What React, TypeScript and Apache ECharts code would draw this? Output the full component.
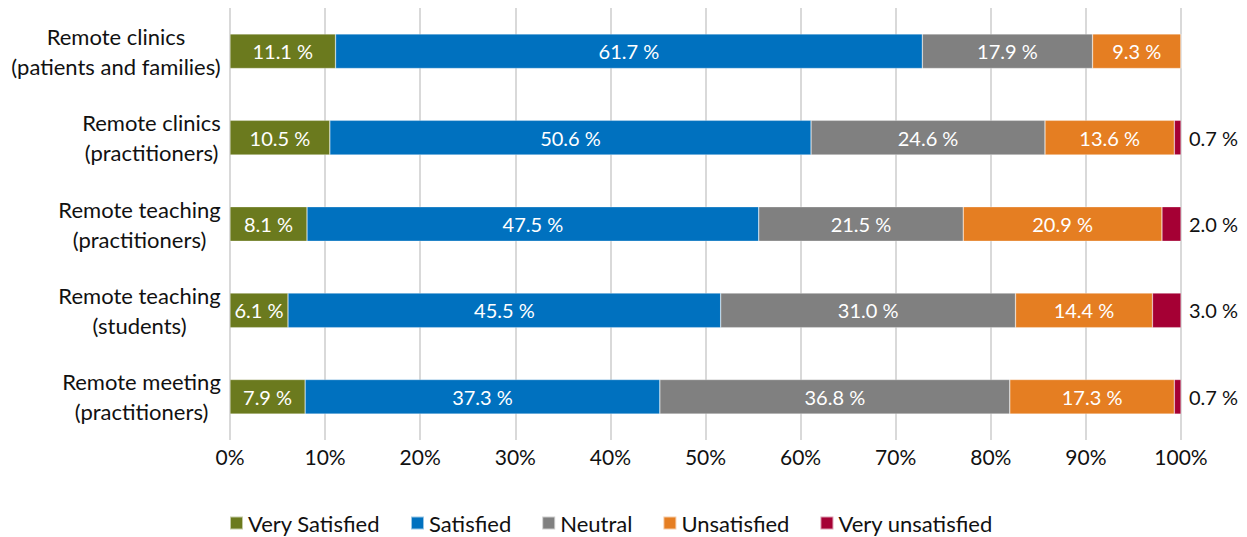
import React, { useEffect, useRef } from "react";
import * as echarts from "echarts";

const categories = [
  "Remote clinics\n(patients and families)",
  "Remote clinics\n(practitioners)",
  "Remote teaching\n(practitioners)",
  "Remote teaching\n(students)",
  "Remote meeting\n(practitioners)",
];
const verySatisfied = [11.1, 10.5, 8.1, 6.1, 7.9];
const satisfied = [61.7, 50.6, 47.5, 45.5, 37.3];
const neutral = [17.9, 24.6, 21.5, 31.0, 36.8];
const unsatisfied = [9.3, 13.6, 20.9, 14.4, 17.3];
const veryUnsatisfied = [0, 0.7, 2.0, 3.0, 0.7];
const xTicks = ["0%", "10%", "20%", "30%", "40%", "50%", "60%", "70%", "80%", "90%", "100%"];

const FONT = "Lato, 'Noto Sans', sans-serif";
const CAT_SIZE = 22;

function measure(text: string): number {
  const c = document.createElement("canvas").getContext("2d");
  if (!c) return text.length * CAT_SIZE * 0.5;
  c.font = `${CAT_SIZE}px ${FONT}`;
  return c.measureText(text).width;
}

export default function App() {
  const ref = useRef<HTMLDivElement>(null);
  useEffect(() => {
    if (!ref.current) return;
    const chart = echarts.init(ref.current, null, { renderer: "svg" });
    const rich: Record<string, any> = {};
    categories.forEach((cat, i) => {
      const w = Math.max(...cat.split("\n").map(measure));
      rich["c" + i] = {
        width: Math.ceil(w) + 2,
        align: "center",
        fontFamily: FONT,
        fontSize: CAT_SIZE,
        lineHeight: 30,
        color: "#111",
      };
    });
    const mk = (name: string, data: number[], color: string, outside = false) => ({
      name,
      type: "bar",
      stack: "total",
      data,
      barWidth: "40%",
      itemStyle: { color, borderColor: "rgba(255,255,255,0.6)", borderWidth: 0.5 },
      label: {
        show: true,
        position: outside ? "right" : "inside",
        distance: 8,
        color: outside ? "#111" : "#fff",
        fontFamily: FONT,
        fontSize: 20,
        formatter: (p: any) => (p.value > 0 ? p.value.toFixed(1) + " %" : ""),
      },
    });
    chart.setOption({
      animation: false,
      textStyle: { fontFamily: FONT },
      grid: { left: 230, right: 66, top: 8, bottom: 97, containLabel: false },
      legend: {
        top: 511,
        left: 229,
        padding: 0,
        icon: "rect",
        itemWidth: 13,
        itemHeight: 13,
        itemGap: 30,
        textStyle: { fontFamily: FONT, fontSize: 22, color: "#111", lineHeight: 24 },
        data: ["Very Satisfied", "Satisfied", "Neutral", "Unsatisfied", "Very unsatisfied"],
      },
      xAxis: {
        type: "value",
        min: 0,
        max: 100,
        interval: 10,
        axisLine: { show: false },
        axisTick: { show: false },
        splitLine: { show: true, lineStyle: { color: "#d9d9d9", width: 2 } },
        axisLabel: {
          fontFamily: FONT,
          fontSize: 21,
          color: "#111",
          margin: 6,
          formatter: (v: number) => xTicks[Math.round(v / 10)],
        },
      },
      yAxis: {
        type: "category",
        inverse: true,
        data: categories,
        axisLine: { show: false },
        axisTick: { show: false },
        axisLabel: {
          margin: 8,
          align: "right",
          formatter: (v: string, i: number) =>
            v
              .split("\n")
              .map((l) => `{c${i}|${l}}`)
              .join("\n"),
          rich,
        },
      },
      series: [
        mk("Very Satisfied", verySatisfied, "#6b7a1e"),
        mk("Satisfied", satisfied, "#0071bf"),
        mk("Neutral", neutral, "#808080"),
        mk("Unsatisfied", unsatisfied, "#e57e22"),
        mk("Very unsatisfied", veryUnsatisfied, "#a50034", true),
      ],
    });
    return () => chart.dispose();
  }, []);
  return (
    <div
      ref={ref}
      style={{ position: "absolute", left: 0, top: 0, width: 1247, height: 537 }}
    />
  );
}
